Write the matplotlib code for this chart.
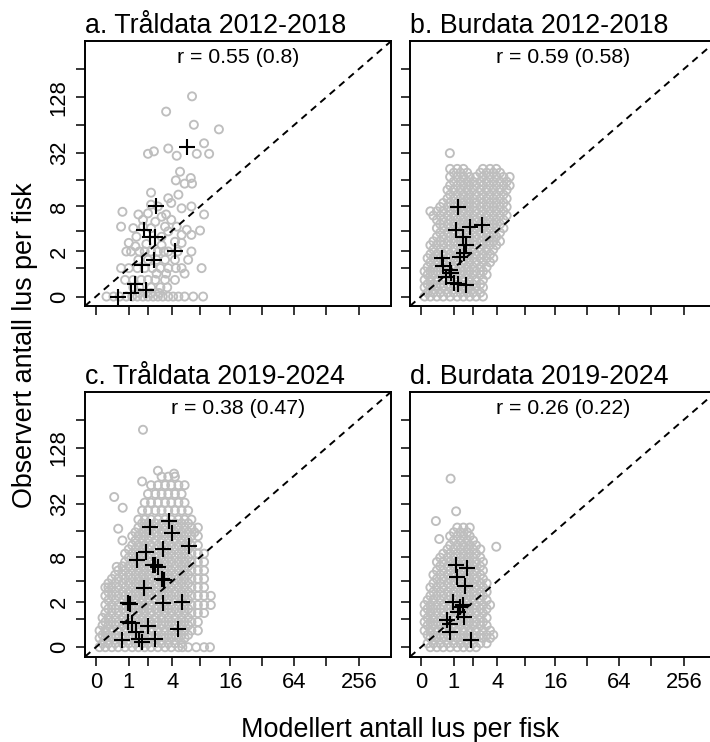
import numpy as np
import matplotlib
matplotlib.use('Agg')
import matplotlib.pyplot as plt

plt.rcParams['font.family'] = 'Liberation Sans'

# ---------------- a. Tråldata 2012-2018 ----------------
a_mod = [6.6, 3.4, 6.9, 12.4, 8.8, 2.4, 2.0, 3.6, 4.5, 7.4, 9.9,
         4.9, 4.4, 6.4, 6.6, 5.5,
         2.2, 4.7, 3.6, 2.2, 2.7, 3.9, 5.1, 6.5, 8.8,
         0.75, 1.45, 2.0, 3.0, 3.4, 1.7, 2.5, 3.9,
         0.7, 1.2, 1.7, 2.2, 3.3, 4.5, 5.8, 8.0, 6.5, 5.1, 3.0, 3.6,
         1.0, 1.35, 1.3, 1.9, 3.0, 4.3, 5.1,
         0.9, 1.1, 1.5, 1.8, 2.2, 2.7, 3.2, 3.6, 4.6, 6.5,
         1.45, 2.0, 2.6, 3.3, 4.3, 6.0,
         0.7, 1.0, 1.4, 1.8, 2.3, 2.9, 3.6, 4.4, 5.1, 8.3,
         2.6, 3.4, 5.5,
         0.85, 1.2, 1.6, 2.0, 2.5, 3.3, 4.3,
         1.2, 1.5, 2.2, 2.9, 3.5,
         1.5, 2.2, 2.8,
         0.25, 0.45, 0.65, 0.9, 1.15, 1.4, 1.7, 2.0, 2.35, 2.7, 3.1, 3.6,
         4.1, 4.7, 5.5, 6.8, 8.6]
a_obs = [131, 90, 65, 58, 41, 33.5, 31.5, 36, 30, 31.5, 31.5,
         20, 16, 17, 14.7, 14.7,
         11.6, 11, 10, 8.4, 8, 8.8, 7.6, 8, 6.4,
         6.9, 6.4, 6.6, 6.0, 6.4, 5.5, 5.2, 5.5,
         4.5, 4.3, 4.5, 4.3, 4.5, 4.5, 4.1, 4.0, 3.5, 3.5, 3.3, 3.9,
         2.7, 3.3, 2.4, 2.6, 2.5, 2.8, 2.7,
         2, 2, 2, 2, 2, 2, 2, 2, 2, 2,
         1.45, 1.45, 1.45, 1.45, 1.45, 1.45,
         1, 1, 1, 1, 1, 1, 1, 1, 1, 1,
         0.75, 0.75, 0.75,
         0.5, 0.5, 0.5, 0.5, 0.5, 0.5, 0.5,
         0.25, 0.25, 0.25, 0.25, 0.25,
         0.09, 0.09, 0.09,
         0, 0, 0, 0, 0, 0, 0, 0, 0, 0, 0, 0,
         0, 0, 0, 0, 0]
a_mod_mean = [0.6, 1.08, 1.28, 1.87, 1.62, 2.42, 4.3, 1.78, 2.15, 2.5, 2.55, 5.8]
a_obs_mean = [0.0, 0.10, 0.36, 0.18, 1.17, 1.43, 2.0, 4.1, 3.3, 3.3, 8.0, 37]

# ---------------- b. Burdata 2012-2018 ----------------
# one list of modelled values per observed level
b_obs_levels = [0, 0.1, 0.25, 0.35, 0.5, 0.7, 0.85, 1.05, 1.3, 1.55, 1.8,
                2.15, 2.5, 2.85, 3.3, 3.75, 4.3, 4.85, 5.5, 6.2, 7.0, 7.9,
                8.8, 9.9, 11, 12.5, 14, 15.5, 17.5, 19.5, 21.5]
b_mod_rows = [
    [0.08, 0.22, 0.4, 0.6, 0.85, 1.15, 1.45, 1.8, 2.2, 2.7],
    [0.15, 0.3, 0.5, 0.75, 1.0, 1.3, 1.65, 2.0, 2.5],
    [0.08, 0.22, 0.4, 0.6, 0.85, 1.15, 1.45, 1.8, 2.2, 2.7],
    [0.15, 0.3, 0.5, 0.75, 1.0, 1.3, 1.65, 2.0, 2.5],
    [0.08, 0.22, 0.4, 0.6, 0.85, 1.15, 1.45, 1.8, 2.2, 2.7],
    [0.15, 0.3, 0.5, 0.75, 1.0, 1.3, 1.65, 2.0, 2.5, 3.0],
    [0.08, 0.22, 0.4, 0.6, 0.85, 1.15, 1.45, 1.8, 2.2, 2.7],
    [0.15, 0.3, 0.5, 0.75, 1.0, 1.3, 1.65, 2.0, 2.5, 3.0],
    [0.22, 0.4, 0.6, 0.85, 1.15, 1.45, 1.8, 2.2, 2.7, 3.3],
    [0.15, 0.3, 0.5, 0.75, 1.0, 1.3, 1.65, 2.0, 2.5, 3.0, 3.6],
    [0.22, 0.4, 0.6, 0.85, 1.15, 1.45, 1.8, 2.2, 2.7, 3.3],
    [0.3, 0.5, 0.75, 1.0, 1.3, 1.65, 2.0, 2.5, 3.0, 3.6],
    [0.22, 0.4, 0.6, 0.85, 1.15, 1.45, 1.8, 2.2, 2.7, 3.3, 3.9],
    [0.3, 0.5, 0.75, 1.0, 1.3, 1.65, 2.0, 2.5, 3.0, 3.6, 4.3],
    [0.4, 0.6, 0.85, 1.15, 1.45, 1.8, 2.2, 2.7, 3.3, 3.9],
    [0.5, 0.75, 1.0, 1.3, 1.65, 2.0, 2.5, 3.0, 3.6, 4.3],
    [0.4, 0.6, 0.85, 1.15, 1.45, 1.8, 2.2, 2.7, 3.3, 3.9, 4.7],
    [0.5, 0.75, 1.0, 1.3, 1.65, 2.0, 2.5, 3.0, 3.6, 4.3],
    [0.4, 0.6, 0.85, 1.15, 1.45, 1.8, 2.2, 2.7, 3.3, 3.9, 4.7],
    [0.3, 0.5, 0.75, 1.0, 1.3, 1.65, 2.0, 2.5, 3.0, 3.6, 4.3, 5.1],
    [0.22, 0.4, 0.6, 0.85, 1.15, 1.45, 1.8, 2.2, 2.7, 3.3, 3.9, 4.7],
    [0.5, 0.75, 1.0, 1.3, 1.65, 2.0, 2.5, 3.0, 3.6, 4.3, 5.1],
    [0.6, 0.85, 1.15, 1.45, 1.8, 2.2, 2.7, 3.3, 3.9, 4.7],
    [0.75, 1.0, 1.3, 1.65, 2.0, 2.5, 3.0, 3.6, 4.3, 5.1],
    [0.85, 1.15, 1.45, 1.8, 2.2, 2.7, 3.3, 3.9, 4.7],
    [0.75, 1.0, 1.3, 1.65, 2.0, 2.5, 3.0, 3.6, 4.3, 5.1],
    [0.85, 1.15, 1.45, 1.8, 2.2, 2.7, 3.3, 3.9, 4.7, 5.5],
    [1.0, 1.3, 1.65, 2.0, 2.5, 3.0, 3.6, 4.3, 5.1],
    [0.85, 1.15, 1.45, 1.8, 2.2, 2.7, 3.3, 3.9, 4.7, 5.5],
    [1.0, 1.3, 1.65, 2.5, 3.0, 3.6, 4.3],
    [0.85, 1.15, 1.45, 2.7, 3.3, 3.9],
]
b_mod_extra = [0.84]
b_obs_extra = [32]
b_mod_mean = [1.2, 1.1, 1.8, 2.6, 1.45, 1.6, 1.5, 1.3, 0.55, 0.6, 0.85, 0.9,
              0.7, 1.0, 1.2, 1.6]
b_obs_mean = [7.9, 4.1, 4.5, 4.7, 3.3, 2.5, 1.9, 1.65, 1.55, 1.1, 0.92, 0.77,
              0.63, 0.38, 0.35, 0.33]

# ---------------- c. Tråldata 2019-2024 ----------------
c_obs_levels = [0, 0.1, 0.25, 0.35, 0.5, 0.7, 0.85, 1.05, 1.3, 1.55, 1.8,
                2.15, 2.5, 2.85, 3.3, 3.75, 4.3, 4.85, 5.5, 6.2, 7.0, 7.9,
                8.8, 9.9, 11, 12.5, 14, 15.5, 17.5, 19.5, 21.5, 27, 33, 41,
                51, 63]
c_mod_rows = [
    [0.08, 0.22, 0.4, 0.6, 0.85, 1.15, 1.45, 1.8, 2.2, 2.7, 3.3, 3.9, 4.7,
     5.2, 6.0, 7.3, 8.8, 10.1],
    [0.15, 0.3, 0.5, 0.75, 1.0, 1.3, 1.65, 2.0, 2.5, 3.0, 3.6, 4.3, 5.1],
    [0.08, 0.22, 0.4, 0.6, 0.85, 1.15, 1.45, 1.8, 2.2, 2.7, 3.3, 3.9, 4.7,
     5.5],
    [0.15, 0.3, 0.5, 0.75, 1.0, 1.3, 1.65, 2.0, 2.5, 3.0, 3.6, 4.3, 5.1, 6.0],
    [0.08, 0.22, 0.4, 0.6, 0.85, 1.15, 1.45, 1.8, 2.2, 2.7, 3.3, 3.9, 4.7,
     5.5, 6.5, 7.6],
    [0.15, 0.3, 0.5, 0.75, 1.0, 1.3, 1.65, 2.0, 2.5, 3.0, 3.6, 4.3, 5.1, 6.0],
    [0.22, 0.4, 0.6, 0.85, 1.15, 1.45, 1.8, 2.2, 2.7, 3.3, 3.9, 4.7, 5.5,
     6.5, 7.6],
    [0.15, 0.3, 0.5, 0.75, 1.0, 1.3, 1.65, 2.0, 2.5, 3.0, 3.6, 4.3, 5.1, 6.0],
    [0.22, 0.4, 0.6, 0.85, 1.15, 1.45, 1.8, 2.2, 2.7, 3.3, 3.9, 4.7, 5.5,
     6.5, 7.6, 8.8],
    [0.3, 0.5, 0.75, 1.0, 1.3, 1.65, 2.0, 2.5, 3.0, 3.6, 4.3, 5.1, 6.0],
    [0.22, 0.4, 0.6, 0.85, 1.15, 1.45, 1.8, 2.2, 2.7, 3.3, 3.9, 4.7, 5.5,
     6.5, 7.6, 8.8, 10.3],
    [0.3, 0.5, 0.75, 1.0, 1.3, 1.65, 2.0, 2.5, 3.0, 3.6, 4.3, 5.1, 6.0],
    [0.22, 0.4, 0.6, 0.85, 1.15, 1.45, 1.8, 2.2, 2.7, 3.3, 3.9, 4.7, 5.5,
     6.5, 7.6, 8.8, 10.3],
    [0.3, 0.5, 0.75, 1.0, 1.3, 1.65, 2.0, 2.5, 3.0, 3.6, 4.3, 5.1, 6.0],
    [0.22, 0.4, 0.6, 0.85, 1.15, 1.45, 1.8, 2.2, 2.7, 3.3, 3.9, 4.7, 5.5,
     6.5, 7.6, 8.8],
    [0.3, 0.5, 0.75, 1.0, 1.3, 1.65, 2.0, 2.5, 3.0, 3.6, 4.3, 5.1, 6.0],
    [0.4, 0.6, 0.85, 1.15, 1.45, 1.8, 2.2, 2.7, 3.3, 3.9, 4.7, 5.5, 6.5, 7.6,
     8.8],
    [0.5, 0.75, 1.0, 1.3, 1.65, 2.0, 2.5, 3.0, 3.6, 4.3, 5.1, 6.0],
    [0.6, 0.85, 1.15, 1.45, 1.8, 2.2, 2.7, 3.3, 3.9, 4.7, 5.5, 6.5, 7.6, 8.8],
    [0.75, 1.0, 1.3, 1.65, 2.0, 2.5, 3.0, 3.6, 4.3, 5.1, 6.0],
    [0.85, 1.15, 1.45, 1.8, 2.2, 2.7, 3.3, 3.9, 4.7, 5.5, 6.5, 7.6, 8.8],
    [1.0, 1.3, 1.65, 2.0, 2.5, 3.0, 3.6, 4.3, 5.1, 6.0],
    [0.85, 1.15, 1.45, 1.8, 2.2, 2.7, 3.3, 3.9, 4.7, 5.5, 6.5, 7.6, 8.8],
    [1.0, 1.3, 1.65, 2.0, 2.5, 3.0, 3.6, 4.3, 5.1, 6.0],
    [1.15, 1.45, 1.8, 2.2, 2.7, 3.3, 3.9, 4.7, 5.5, 6.5, 7.6],
    [1.3, 1.65, 2.0, 2.5, 3.0, 3.6, 4.3, 5.1, 6.0],
    [1.15, 1.45, 1.8, 2.2, 2.7, 3.3, 3.9, 4.7, 5.5, 6.5, 7.6],
    [1.3, 1.65, 2.0, 2.5, 3.0, 3.6, 4.3, 5.1, 6.0, 7.0],
    [1.45, 1.8, 2.2, 2.7, 3.3, 3.9, 4.7, 5.5, 6.5, 7.6],
    [1.65, 2.0, 2.5, 3.0, 3.6, 4.3, 5.1, 6.0],
    [1.45, 1.8, 2.2, 2.7, 3.3, 3.9, 4.7, 5.5, 6.5],
    [1.65, 2.0, 2.5, 3.0, 3.6, 4.3, 5.1, 6.0],
    [1.8, 2.2, 2.7, 3.3, 3.9, 4.7, 5.5],
    [2.0, 2.5, 3.0, 3.6, 4.3, 5.1],
    [2.2, 2.7, 3.3, 3.9, 4.7, 5.5],
    [3.0, 3.6, 4.3],
]
c_mod_extra = [1.7, 2.7, 1.65, 4.2, 0.47, 0.76, 0.6, 0.75, 0.55, 0.3]
c_obs_extra = [200, 73, 56, 68, 38, 29, 17, 12.5, 6.1, 3.3]
c_mod_mean = [0.75, 0.98, 1.12, 1.33, 1.5, 1.62, 2.0, 2.48, 4.7, 0.95, 1.05,
              1.75, 3.1, 5.1, 1.36, 1.85, 2.35, 2.5, 2.7, 3.1, 3.0, 3.2, 6.2,
              2.1, 3.7, 4.0]
c_obs_mean = [0.2, 0.84, 0.8, 0.44, 0.22, 0.13, 0.66, 0.22, 0.57, 1.93, 1.9,
              3.2, 1.93, 2.0, 7.3, 9.2, 6.4, 6.5, 6.0, 10.1, 4.3, 4.1, 10.7,
              17.7, 20.7, 15.2]

# ---------------- d. Burdata 2019-2024 ----------------
d_obs_levels = [0, 0.1, 0.25, 0.35, 0.5, 0.7, 0.85, 1.05, 1.3, 1.55, 1.8,
                2.15, 2.5, 2.85, 3.3, 3.75, 4.3, 4.85, 5.5, 6.2, 7.0, 7.9,
                8.8, 9.9, 11, 12.5, 14, 15.5, 17.5]
d_mod_rows = [
    [0.22, 0.4, 0.6, 0.85, 1.15, 1.45, 1.8, 2.2],
    [0.15, 0.3, 0.5, 0.75, 1.0, 1.3, 1.65, 2.0, 2.5, 3.0],
    [0.22, 0.4, 0.6, 0.85, 1.15, 1.45, 1.8, 2.2, 2.7, 3.3],
    [0.15, 0.3, 0.5, 0.75, 1.0, 1.3, 1.65, 2.0, 2.5, 3.0, 3.6],
    [0.08, 0.22, 0.4, 0.6, 0.85, 1.15, 1.45, 1.8, 2.2, 2.7, 3.3],
    [0.15, 0.3, 0.5, 0.75, 1.0, 1.3, 1.65, 2.0, 2.5, 3.0],
    [0.08, 0.22, 0.4, 0.6, 0.85, 1.15, 1.45, 1.8, 2.2, 2.7],
    [0.15, 0.3, 0.5, 0.75, 1.0, 1.3, 1.65, 2.0, 2.5, 3.0],
    [0.08, 0.22, 0.4, 0.6, 0.85, 1.15, 1.45, 1.8, 2.2, 2.7],
    [0.15, 0.3, 0.5, 0.75, 1.0, 1.3, 1.65, 2.0, 2.5, 3.0],
    [0.08, 0.22, 0.4, 0.6, 0.85, 1.15, 1.45, 1.8, 2.2, 2.7, 3.3],
    [0.15, 0.3, 0.5, 0.75, 1.0, 1.3, 1.65, 2.0, 2.5, 3.0],
    [0.22, 0.4, 0.6, 0.85, 1.15, 1.45, 1.8, 2.2, 2.7],
    [0.3, 0.5, 0.75, 1.0, 1.3, 1.65, 2.0, 2.5, 3.0],
    [0.22, 0.4, 0.6, 0.85, 1.15, 1.45, 1.8, 2.2, 2.7],
    [0.3, 0.5, 0.75, 1.0, 1.3, 1.65, 2.0, 2.5, 3.0],
    [0.4, 0.6, 0.85, 1.15, 1.45, 1.8, 2.2, 2.7],
    [0.3, 0.5, 0.75, 1.0, 1.3, 1.65, 2.0, 2.5],
    [0.4, 0.6, 0.85, 1.15, 1.45, 1.8, 2.2, 2.7],
    [0.5, 0.75, 1.0, 1.3, 1.65, 2.0, 2.5],
    [0.4, 0.6, 0.85, 1.15, 1.45, 1.8, 2.2, 2.7],
    [0.5, 0.75, 1.0, 1.3, 1.65, 2.0, 2.5],
    [0.6, 0.85, 1.15, 1.45, 1.8, 2.2],
    [0.75, 1.0, 1.3, 1.65, 2.0, 2.5],
    [0.85, 1.15, 1.45, 1.8, 2.2],
    [1.0, 1.3, 1.65, 2.0],
    [0.85, 1.15, 1.45, 1.8],
    [1.0, 1.3, 1.65],
    [1.15, 1.45, 1.8],
]
d_mod_extra = [0.87, 1.1, 0.37, 0.47, 3.9]
d_obs_extra = [60, 26.5, 20.7, 13, 10.6]
d_mod_mean = [1.1, 1.66, 1.13, 1.53, 0.95, 1.44, 1.2, 1.48, 0.72, 0.84, 0.84,
              1.85, 1.28]
d_obs_mean = [6.5, 5.9, 4.6, 3.5, 2.0, 1.77, 1.35, 1.08, 0.92, 0.77, 0.44,
              0.18, 1.66]

titles = ['a. Tråldata 2012-2018', 'b. Burdata 2012-2018',
          'c. Tråldata 2019-2024', 'd. Burdata 2019-2024']
r_labels = ['r = 0.55 (0.8)', 'r = 0.59 (0.58)',
            'r = 0.38 (0.47)', 'r = 0.26 (0.22)']

tick_vals = [0, 1, 2, 4, 8, 16, 32, 64, 128, 256]
x_labelled = [0, 1, 4, 16, 64, 256]
y_labelled = [0, 2, 8, 32, 128]


def expand_rows(levels, rows, mod_extra, obs_extra):
    mod, obs = list(mod_extra), list(obs_extra)
    for lev, row in zip(levels, rows):
        mod += row
        obs += [lev] * len(row)
    return mod, obs


def fwd(v):
    return np.log2(np.asarray(v, dtype=float) + 1)


def inv(t):
    return 2.0 ** np.asarray(t, dtype=float) - 1


panels = [
    (a_mod, a_obs, a_mod_mean, a_obs_mean),
    (*expand_rows(b_obs_levels, b_mod_rows, b_mod_extra, b_obs_extra),
     b_mod_mean, b_obs_mean),
    (*expand_rows(c_obs_levels, c_mod_rows, c_mod_extra, c_obs_extra),
     c_mod_mean, c_obs_mean),
    (*expand_rows(d_obs_levels, d_mod_rows, d_mod_extra, d_obs_extra),
     d_mod_mean, d_obs_mean),
]

fig = plt.figure(figsize=(7.10, 7.42), dpi=100)
w, h = 0.4306, 0.3565
boxes = [(0.1197, 0.5876), (0.5775, 0.5876), (0.1197, 0.1150), (0.5775, 0.1150)]
lo, hi = float(inv(-0.333)), float(inv(8.975))

for i, (mod, obs, mod_m, obs_m) in enumerate(panels):
    ax = fig.add_axes([boxes[i][0], boxes[i][1], w, h])
    ax.set_xscale('function', functions=(fwd, inv))
    ax.set_yscale('function', functions=(fwd, inv))
    ax.set_xlim(lo, hi)
    ax.set_ylim(lo, hi)

    ax.scatter(mod, obs, s=34, facecolors='none', edgecolors='#BEBEBE',
               linewidths=1.35, zorder=2)
    ax.plot([lo, hi], [lo, hi], color='black', linewidth=1.4,
            linestyle=(0, (3.6, 2.8)), zorder=3)
    ax.scatter(mod_m, obs_m, s=125, marker='+', color='black',
               linewidths=1.5, zorder=4)

    ax.set_xticks(tick_vals)
    ax.set_yticks(tick_vals)
    if i >= 2:
        ax.set_xticklabels([str(v) if v in x_labelled else '' for v in tick_vals])
    else:
        ax.set_xticklabels([])
    if i % 2 == 0:
        ax.set_yticklabels([str(v) if v in y_labelled else '' for v in tick_vals],
                           rotation=90, va='center')
    else:
        ax.set_yticklabels([])
    ax.tick_params(direction='out', length=6.5, width=1.1, labelsize=15.8,
                   pad=4.5, colors='black')
    ax.minorticks_off()
    for sp in ax.spines.values():
        sp.set_linewidth(1.4)

    ax.set_title(titles[i], loc='left', fontsize=19.3, pad=6)
    ax.text(0.5, 0.918, r_labels[i], transform=ax.transAxes, ha='center',
            va='baseline', fontsize=15.3)

fig.text(400 / 710, 0.0063, 'Modellert antall lus per fisk', ha='center',
         va='baseline', fontsize=19.4)
fig.text(31.7 / 710, 0.535, 'Observert antall lus per fisk', rotation=90,
         rotation_mode='anchor', ha='center', va='baseline', fontsize=19.4)

fig.savefig('out.png', dpi=100)
